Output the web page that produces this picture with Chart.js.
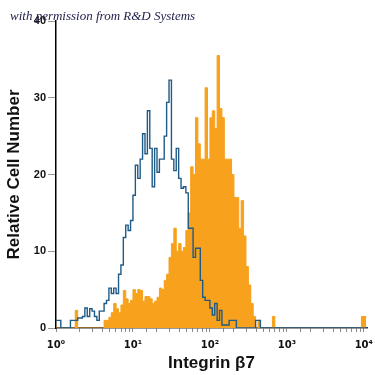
<!DOCTYPE html>
<html>
<head>
<meta charset="utf-8">
<script src="https://cdn.jsdelivr.net/npm/chart.js@4.4.0/dist/chart.umd.min.js"></script>
<style>
  html, body { margin: 0; padding: 0; background: #fff; }
  #wrap { width: 375px; height: 375px; }
</style>
</head>
<body>
<div id="wrap"><canvas id="ctx" width="375" height="375"></canvas></div>
<script>
  // histogram channels: 32 bins per decade, 10^0 .. 10^4
  const binsPerDecade = 32;

  // stained cells (orange, filled), counts per bin starting at bin 0
  const stainedCounts = [
    0, 0, 0, 0, 0, 0, 0, 0, 0, 2.3,
    0, 0, 0, 0, 0, 0, 0, 0, 0, 0,
    0, 1, 1, 1.4, 2, 3.2, 2.5, 2, 3, 4.9,
    3.8, 3.2, 3.6, 5, 4.5, 5, 4.9, 3.5, 4.1, 4.1,
    3.8, 3.2, 3.5, 4, 5.2, 5, 6.2, 7, 9.2, 11,
    13, 10, 11, 10, 10.5, 12.7, 15, 21, 20, 27.4,
    24, 22, 22, 31.3, 22, 27.4, 28.3, 26, 35.5, 28.6,
    27.4, 22, 22, 22, 20, 17, 17, 13, 16.6, 12,
    8, 5.6, 3.2, 1.5, 0, 1, 0, 0, 0, 0,
    0, 1.5, 0, 0, 0, 0, 0, 0, 0, 0,
    0, 0, 0, 0, 0, 0, 0, 0, 0, 0,
    0, 0, 0, 0, 0, 0, 0, 0, 0, 0,
    0, 0, 0, 0, 0, 0, 0, 0, 1.5
  ];

  // isotype control (blue outline), counts per bin starting at bin 0
  const isotypeCounts = [
    1, 1, 1, 0, 0, 0, 0, 1, 1, 1,
    1.3, 1.3, 1.5, 2.6, 1.5, 2.5, 2.2, 1.5, 1, 2.2,
    2.2, 3.2, 3.6, 5.2, 4.5, 5.2, 4.5, 7, 8.2, 11.8,
    13.4, 12.7, 14, 17.3, 21.2, 19.5, 22, 25.3, 22.7, 28.3,
    23.4, 18.4, 23.4, 20.3, 22, 22, 25, 29.4, 32.3, 22,
    20.5, 23.4, 19.5, 18.2, 18.4, 17.6, 13, 13, 9.2, 10.4,
    10.4, 6.2, 4, 3.6, 3.6, 2.6, 1.7, 3.2, 1, 2.3,
    0.4, 0.4, 0.4, 1, 1, 1, 0, 0, 0, 0,
    0, 0, 0, 0, 1, 1, 0, 0, 0, 0,
    0, 0, 0, 0, 0, 0, 0, 0, 0, 0,
    0, 0, 0, 0, 0, 0, 0, 0, 0, 0,
    0, 0, 0, 0, 0, 0, 0, 0, 0, 0,
    0, 0, 0, 0, 0, 0, 0, 0, 0
  ];

  const yTicks = [0, 10, 20, 30, 40];
  const decadeLabels = ['10\u2070', '10\u00B9', '10\u00B2', '10\u00B3', '10\u2074'];

  // turn bin counts into step points (left edge of each bin + closing edge)
  function toSteps(counts) {
    const pts = counts.map((v, i) => ({ x: Math.pow(10, i / binsPerDecade), y: v }));
    pts.push({ x: Math.pow(10, counts.length / binsPerDecade), y: counts[counts.length - 1] });
    return pts;
  }

  const watermark = {
    id: 'watermark',
    afterDraw(chart) {
      const c = chart.ctx;
      c.save();
      c.font = 'italic 13px "Liberation Serif", "DejaVu Serif", serif';
      c.fillStyle = '#23234f';
      c.textBaseline = 'alphabetic';
      c.fillText('with permission from R&D Systems', 10, 20);
      c.restore();
    }
  };

  const tickFont = { family: '"Liberation Sans", "DejaVu Sans", sans-serif', size: 11, weight: 'bold' };
  const titleFont = { family: '"Liberation Sans", "DejaVu Sans", sans-serif', size: 17, weight: 'bold' };

  new Chart(document.getElementById('ctx'), {
    type: 'line',
    data: {
      datasets: [
        {
          label: 'Isotype',
          data: toSteps(isotypeCounts),
          stepped: 'after',
          borderColor: '#1f5b87',
          borderWidth: 1.4,
          pointRadius: 0,
          fill: false,
          order: 0
        },
        {
          label: 'Integrin beta 7',
          data: toSteps(stainedCounts),
          stepped: 'after',
          borderColor: '#f7a11d',
          backgroundColor: '#f7a11d',
          borderWidth: 1,
          pointRadius: 0,
          fill: 'origin',
          order: 1
        }
      ]
    },
    options: {
      responsive: false,
      animation: false,
      layout: { padding: { left: 0, right: 8, top: 21, bottom: 0 } },
      plugins: {
        legend: { display: false },
        tooltip: { enabled: false }
      },
      scales: {
        x: {
          type: 'logarithmic',
          min: 1,
          max: 11000,
          afterBuildTicks: (scale) => {
            scale.ticks = scale.ticks.filter(t => t.value <= 10000);
          },
          afterFit: (scale) => {
            scale.height = 47;
            scale.paddingLeft = 0;
            scale.paddingRight = 0;
          },
          border: { display: true, color: '#333', width: 1.5 },
          grid: { drawOnChartArea: false, tickLength: 4, color: '#8a8a8a' },
          ticks: {
            autoSkip: false,
            maxRotation: 0,
            padding: 7,
            color: '#111',
            font: { family: '"DejaVu Sans", sans-serif', size: 10, weight: 'bold' },
            callback: (value) => {
              const l = Math.log10(value);
              const r = Math.round(l);
              return Math.abs(l - r) < 1e-6 ? decadeLabels[r] : '';
            }
          },
          title: {
            display: true,
            text: 'Integrin \u03B27',
            color: '#111',
            font: titleFont,
            padding: { top: 0, bottom: 1 }
          }
        },
        y: {
          min: 0,
          max: 40,
          afterBuildTicks: (scale) => {
            scale.ticks = yTicks.map(v => ({ value: v }));
          },
          afterFit: (scale) => {
            scale.width = 56;
            scale.paddingTop = 0;
            scale.paddingBottom = 0;
          },
          border: { display: true, color: '#000', width: 1.5 },
          grid: { drawOnChartArea: false, tickLength: 8, color: '#999' },
          ticks: {
            padding: 2,
            color: '#111',
            font: tickFont
          },
          title: {
            display: true,
            text: 'Relative Cell Number',
            color: '#111',
            font: titleFont,
            padding: { top: 4, bottom: 0 }
          }
        }
      }
    },
    plugins: [watermark]
  });
</script>
</body>
</html>
